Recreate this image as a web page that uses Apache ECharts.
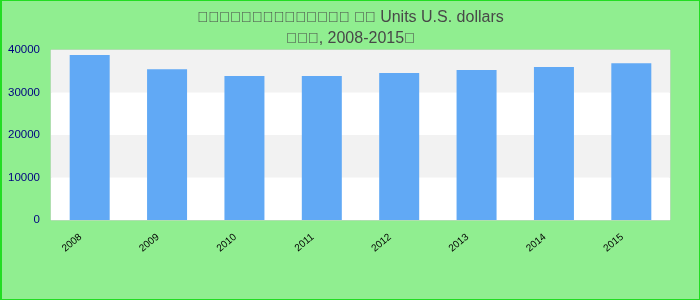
<!DOCTYPE html>
<html>
<head>
<meta charset="utf-8">
<script src="https://cdn.jsdelivr.net/npm/echarts@6/dist/echarts.min.js"></script>
<style>
html,body{margin:0;padding:0;background:#90ee90;}
#chart{width:700px;height:300px;box-sizing:border-box;border:1px solid #22dd22;border-left-width:2px;}
</style>
</head>
<body>
<div id="chart"></div>
<script>
// The reference shows its non-Latin title words as empty "tofu" boxes (glyphs missing);
// they are reproduced here with characters that render as the same empty boxes.
var titleBoxesA = "\uE000\uE001\uE002\uE003\uE004\uE005\uE006\uE007\uE008\uE009\uE00A\uE00B\uE00C\uE00D";
var titleBoxesB = "\uE00E\uE00F";
var titleTextA = " Units U.S. dollars";
var titleBoxesC = "\uE010\uE011\uE012";
var titleTextB = ", 2008-2015";
var titleBoxesD = "\uE013";
var categories = ["2008","2009","2010","2011","2012","2013","2014","2015"];
var values = [38800, 35500, 33900, 33900, 34600, 35300, 36000, 36900];
var yTicks = [0, 10000, 20000, 30000, 40000];

var chart = echarts.init(document.getElementById('chart'));
chart.setOption({
  backgroundColor: '#90ee90',
  animation: false,
  title: {
    text: '{b|' + titleBoxesA + '} {b|' + titleBoxesB + '}' + titleTextA + '\n{b|' + titleBoxesC + '}' + titleTextB + '{b|' + titleBoxesD + '}',
    left: 'center',
    top: 1,
    textStyle: {
      fontFamily: 'Liberation Sans, Arial, sans-serif', fontSize: 16, fontWeight: 'normal', color: '#484848', lineHeight: 21,
      rich: {b: {fontSize: 14.5, fontFamily: 'Liberation Sans, Arial, sans-serif', color: '#484848', lineHeight: 21}}
    }
  },
  grid: {left: 49, right: 29, top: 49, bottom: 79, show: true, borderColor: '#d0d0d0', borderWidth: 1, backgroundColor: '#ffffff'},
  xAxis: {
    type: 'category',
    data: categories,
    axisLine: {show: false},
    axisTick: {show: false},
    axisLabel: {rotate: 40, color: '#000', fontSize: 10, fontFamily: 'Liberation Sans, Arial, sans-serif', margin: 8, padding: [0, 12, 0, 0]}
  },
  yAxis: {
    type: 'value',
    min: yTicks[0],
    max: yTicks[yTicks.length - 1],
    interval: 10000,
    axisLine: {show: false},
    axisTick: {show: false},
    splitLine: {show: false},
    splitArea: {show: true, areaStyle: {color: ['#ffffff', '#f2f2f2']}},
    axisLabel: {color: '#000080', fontSize: 11.5, fontFamily: 'Liberation Sans, Arial, sans-serif', margin: 11, formatter: function(v){ return String(v); }}
  },
  series: [{
    type: 'bar',
    data: values,
    barWidth: 40,
    itemStyle: {color: '#61a9f5'}
  }]
});
</script>
</body>
</html>
